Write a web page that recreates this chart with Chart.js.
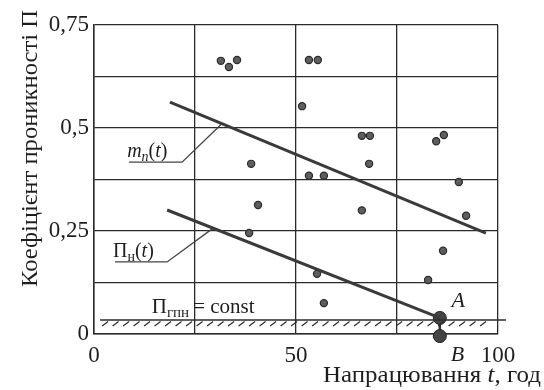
<!DOCTYPE html>
<html lang="uk">
<head>
<meta charset="UTF-8">
<title>Коефіцієнт проникності</title>
<script src="https://cdn.jsdelivr.net/npm/chart.js"></script>
<style>
  html, body { margin: 0; padding: 0; background: #fff; }
  #wrap { width: 544px; height: 390px; }
</style>
</head>
<body>
<div id="wrap"><canvas id="c" width="544" height="390"></canvas></div>
<script>
// measured points: operating time t (h) and permeability coefficient
const tVals = [31.4, 33.4, 35.4, 38.9, 38.4, 40.6, 51.5, 53.2, 55.4, 53.2, 56.9, 55.2, 56.9, 66.3, 68.3, 68.1, 66.3, 82.7, 84.7, 86.6, 86.4, 90.3, 92.1];
const pVals = [0.663, 0.648, 0.665, 0.413, 0.245, 0.313, 0.553, 0.665, 0.665, 0.384, 0.384, 0.146, 0.075, 0.481, 0.481, 0.413, 0.300, 0.131, 0.468, 0.483, 0.202, 0.369, 0.287];

// m_n(t) and П_н(t) trend lines (end points)
const mLineT = [18.8, 97];
const mLineY = [0.563, 0.245];
const nLineT = [18.1, 85.6];
const nLineY = [0.301, 0.039];

// limit level П_гпн = const
const constLevel = 0.034;
const constT = [1.5, 102];

// points A and B
const abT = [85.6, 85.6];
const abY = [0.039, -0.005];

const xTickLabels = { 0: '0', 50: '50', 100: '100' };
const yTickLabels = { 0: '0', 0.25: '0,25', 0.5: '0,5', 0.75: '0,75' };

const toPts = (xs, ys) => xs.map((x, i) => ({ x: x, y: ys[i] }));

const SERIF = '"Liberation Serif", "DejaVu Serif", serif';
const INK = '#2b2b2b';

// leader lines from labels to the trend lines
const mLeader = [{ x: 8.7, y: 0.417 }, { x: 21.8, y: 0.417 }, { x: 31.7, y: 0.511 }];
const nLeader = [{ x: 5.2, y: 0.175 }, { x: 18.1, y: 0.175 }, { x: 29.5, y: 0.257 }];

function runsWidth(ctx, runs) {
  let w = 0;
  runs.forEach(r => {
    ctx.font = (r.italic ? 'italic ' : '') + r.size + 'px ' + SERIF;
    w += ctx.measureText(r.text).width + (r.gap || 0);
  });
  return w;
}

function drawRuns(ctx, x, y, runs) {
  runs.forEach(r => {
    ctx.font = (r.italic ? 'italic ' : '') + r.size + 'px ' + SERIF;
    ctx.fillText(r.text, x, y + (r.dy || 0));
    x += ctx.measureText(r.text).width + (r.gap || 0);
  });
  return x;
}

// draw runs stretched horizontally to a given length
function drawFitted(ctx, runs, len) {
  const w = runsWidth(ctx, runs);
  ctx.scale(len / w, 1);
  drawRuns(ctx, 0, 0, runs);
}

const decor = {
  id: 'decor',
  beforeDraw(chart) {
    const ctx = chart.ctx;
    ctx.save();
    ctx.fillStyle = '#fff';
    ctx.fillRect(0, 0, chart.width, chart.height);
    ctx.restore();
  },
  afterDraw(chart) {
    const ctx = chart.ctx;
    const xs = chart.scales.x, ys = chart.scales.y;
    const px = v => xs.getPixelForValue(v);
    const py = v => ys.getPixelForValue(v);
    ctx.save();

    // hatching under the limit line
    const yl = py(constLevel);
    ctx.strokeStyle = INK;
    ctx.lineWidth = 1.2;
    ctx.beginPath();
    for (let x = px(2); x < px(96); x += 10.5) {
      ctx.moveTo(x, yl + 6);
      ctx.lineTo(x + 6, yl + 1.5);
    }
    ctx.stroke();

    ctx.fillStyle = '#1e1e1e';
    ctx.textBaseline = 'alphabetic';
    ctx.textAlign = 'left';

    // m_n(t)
    drawRuns(ctx, px(8.2), py(0.43), [
      { text: 'm', size: 20, italic: true },
      { text: 'n', size: 14, italic: true, dy: 4 },
      { text: '(', size: 20 },
      { text: 't', size: 20, italic: true },
      { text: ')', size: 20 }
    ]);
    // П_н(t)
    drawRuns(ctx, px(4.7), py(0.188), [
      { text: 'П', size: 20 },
      { text: 'н', size: 14, dy: 4 },
      { text: '(', size: 20 },
      { text: 't', size: 20, italic: true },
      { text: ')', size: 20 }
    ]);
    // П_гпн = const
    drawRuns(ctx, px(14.3), py(0.052), [
      { text: 'П', size: 21 },
      { text: 'гпн', size: 15, dy: 4, gap: 4 },
      { text: '= const', size: 21 }
    ]);

    // A and B
    ctx.font = 'italic 22px ' + SERIF;
    ctx.fillText('A', px(88.5), py(0.066));
    ctx.fillText('B', px(88.3), 361);

    // axis titles
    ctx.save();
    ctx.translate(323, 382);
    drawFitted(ctx, [
      { text: 'Напрацювання ', size: 23 },
      { text: 't', size: 23, italic: true },
      { text: ', год', size: 23 }
    ], 218);
    ctx.restore();

    ctx.save();
    ctx.translate(37, 287);
    ctx.rotate(-Math.PI / 2);
    drawFitted(ctx, [{ text: 'Коефіцієнт проникності П', size: 23 }], 277);
    ctx.restore();

    ctx.restore();
  }
};

const lineStyle = { type: 'line', showLine: true, pointRadius: 0, borderColor: '#333', fill: false, clip: false };

new Chart(document.getElementById('c'), {
  type: 'scatter',
  data: {
    datasets: [
      { ...lineStyle, label: 'П_гпн', data: toPts(constT, [constLevel, constLevel]), borderWidth: 1.4, borderColor: INK },
      { ...lineStyle, label: 'm_n(t)', data: toPts(mLineT, mLineY), borderWidth: 3, borderColor: '#3a3a3a' },
      { ...lineStyle, label: 'П_н(t)', data: toPts(nLineT, nLineY), borderWidth: 3, borderColor: '#3a3a3a' },
      { ...lineStyle, label: 'leader m', data: mLeader, borderWidth: 1.3, borderColor: '#444' },
      { ...lineStyle, label: 'leader П', data: nLeader, borderWidth: 1.3, borderColor: '#444' },
      { ...lineStyle, label: 'AB', data: toPts(abT, abY), borderWidth: 2.5, borderColor: '#333',
        pointRadius: 6.5, pointBackgroundColor: '#444', pointBorderColor: '#222', pointBorderWidth: 1 },
      { label: 'П', data: toPts(tVals, pVals), pointRadius: 3.6, pointBackgroundColor: '#5e5e5e',
        pointBorderColor: '#2a2a2a', pointBorderWidth: 1.2, clip: false }
    ]
  },
  options: {
    responsive: false,
    animation: false,
    layout: { padding: { top: 25, right: 46, left: 0, bottom: 0 } },
    plugins: { legend: { display: false }, tooltip: { enabled: false } },
    scales: {
      x: {
        type: 'linear', min: 0, max: 100,
        afterFit: s => { s.height = 56; },
        grid: { color: INK, lineWidth: 1.3, drawTicks: false },
        border: { color: INK, width: 1.5 },
        ticks: {
          stepSize: 25, padding: 8, maxRotation: 0, autoSkip: false,
          color: '#1e1e1e', font: { family: SERIF, size: 23 },
          callback: v => xTickLabels[v] !== undefined ? xTickLabels[v] : ''
        }
      },
      y: {
        type: 'linear', min: 0, max: 0.75,
        afterFit: s => { s.width = 94; },
        grid: { color: INK, lineWidth: 1.3, drawTicks: false },
        border: { color: INK, width: 1.5 },
        ticks: {
          stepSize: 0.125, padding: 5, autoSkip: false,
          color: '#1e1e1e', font: { family: SERIF, size: 23 },
          callback: v => yTickLabels[v] !== undefined ? yTickLabels[v] : ''
        }
      }
    }
  },
  plugins: [decor]
});
</script>
</body>
</html>
